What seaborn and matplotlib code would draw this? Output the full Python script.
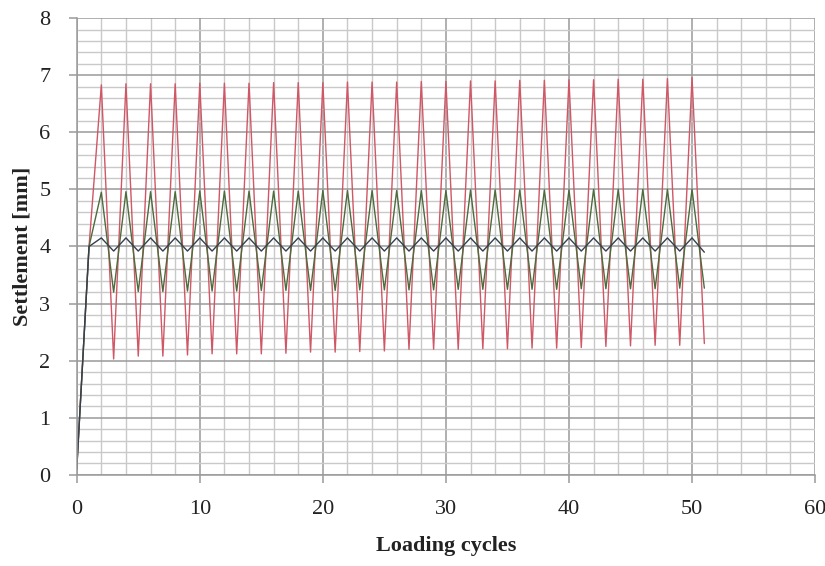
import matplotlib
matplotlib.use("Agg")
import matplotlib.pyplot as plt
import seaborn as sns
import pandas as pd
from matplotlib.ticker import MultipleLocator

# ---- data ----
cycles = list(range(0, 52))

settlement_red = [0.1, 4.0,
    6.83, 2.03, 6.85, 2.08, 6.85, 2.08, 6.85, 2.10, 6.86, 2.12, 6.86, 2.12,
    6.86, 2.12, 6.87, 2.13, 6.87, 2.15, 6.87, 2.15, 6.88, 2.16, 6.88, 2.17,
    6.88, 2.20, 6.89, 2.20, 6.89, 2.20, 6.90, 2.21, 6.90, 2.21, 6.91, 2.22,
    6.91, 2.22, 6.92, 2.23, 6.92, 2.25, 6.93, 2.26, 6.93, 2.27, 6.94, 2.27,
    6.96, 2.30]

settlement_green = [0.1, 4.0,
    4.95, 3.20, 4.96, 3.21, 4.96, 3.21, 4.96, 3.22, 4.97, 3.22, 4.97, 3.22,
    4.97, 3.23, 4.97, 3.23, 4.97, 3.23, 4.98, 3.23, 4.98, 3.24, 4.98, 3.24,
    4.98, 3.24, 4.98, 3.24, 4.98, 3.25, 4.99, 3.25, 4.99, 3.25, 4.99, 3.25,
    4.99, 3.25, 4.99, 3.26, 5.00, 3.26, 5.00, 3.26, 5.00, 3.26, 5.00, 3.27,
    5.00, 3.27]

settlement_blue = [0.1, 4.0,
    4.15, 3.92, 4.15, 3.92, 4.15, 3.92, 4.15, 3.92, 4.15, 3.92, 4.15, 3.92,
    4.15, 3.92, 4.15, 3.92, 4.15, 3.92, 4.15, 3.92, 4.15, 3.92, 4.15, 3.92,
    4.15, 3.92, 4.15, 3.92, 4.15, 3.92, 4.15, 3.92, 4.15, 3.92, 4.15, 3.92,
    4.15, 3.92, 4.15, 3.92, 4.15, 3.92, 4.15, 3.92, 4.15, 3.92, 4.15, 3.92,
    4.15, 3.90]

series_names = ["red", "green", "blue"]
series_colors = {"red": "#cf5766", "green": "#4d6b3c", "blue": "#34404f"}

frames = []
for name, vals in zip(series_names, [settlement_red, settlement_green, settlement_blue]):
    frames.append(pd.DataFrame({"cycle": cycles, "settlement": vals, "series": name}))
df = pd.concat(frames, ignore_index=True)

# ---- plot ----
sns.set_style("white")
plt.rcParams["font.family"] = ["Liberation Serif", "DejaVu Serif"]

fig = plt.figure(figsize=(8.25, 5.66), dpi=100)
ax = fig.add_axes([0.093, 0.161, 0.895, 0.807])

sns.lineplot(data=df, x="cycle", y="settlement", hue="series",
             palette=series_colors, hue_order=series_names,
             linewidth=1.0, ax=ax, legend=False, sort=False)

ax.set_xlim(0, 60)
ax.set_ylim(0, 8)
ax.xaxis.set_major_locator(MultipleLocator(10))
ax.xaxis.set_minor_locator(MultipleLocator(2))
ax.yaxis.set_major_locator(MultipleLocator(1))
ax.yaxis.set_minor_locator(MultipleLocator(0.2))

ax.grid(which="major", color="#9a9a9a", linewidth=1.1)
ax.grid(which="minor", color="#c9c9c9", linewidth=1.0)
ax.set_axisbelow(True)

for side in ["top", "right"]:
    ax.spines[side].set_visible(False)
for side in ["left", "bottom"]:
    ax.spines[side].set_color("#9a9a9a")
    ax.spines[side].set_linewidth(1.1)

ax.tick_params(which="major", direction="out", length=6, width=1.1,
               color="#9a9a9a", labelsize=16, labelcolor="#222222",
               left=True, bottom=True)
ax.tick_params(axis="x", which="major", pad=12)
ax.tick_params(axis="y", which="major", pad=13)
ax.tick_params(which="minor", length=0)

ax.set_xlabel("Loading cycles", fontsize=16, fontweight="bold", color="#222222", labelpad=12)
ax.set_ylabel("Settlement [mm]", fontsize=16, fontweight="bold", color="#222222", labelpad=5)

fig.savefig("out.png", dpi=100)
